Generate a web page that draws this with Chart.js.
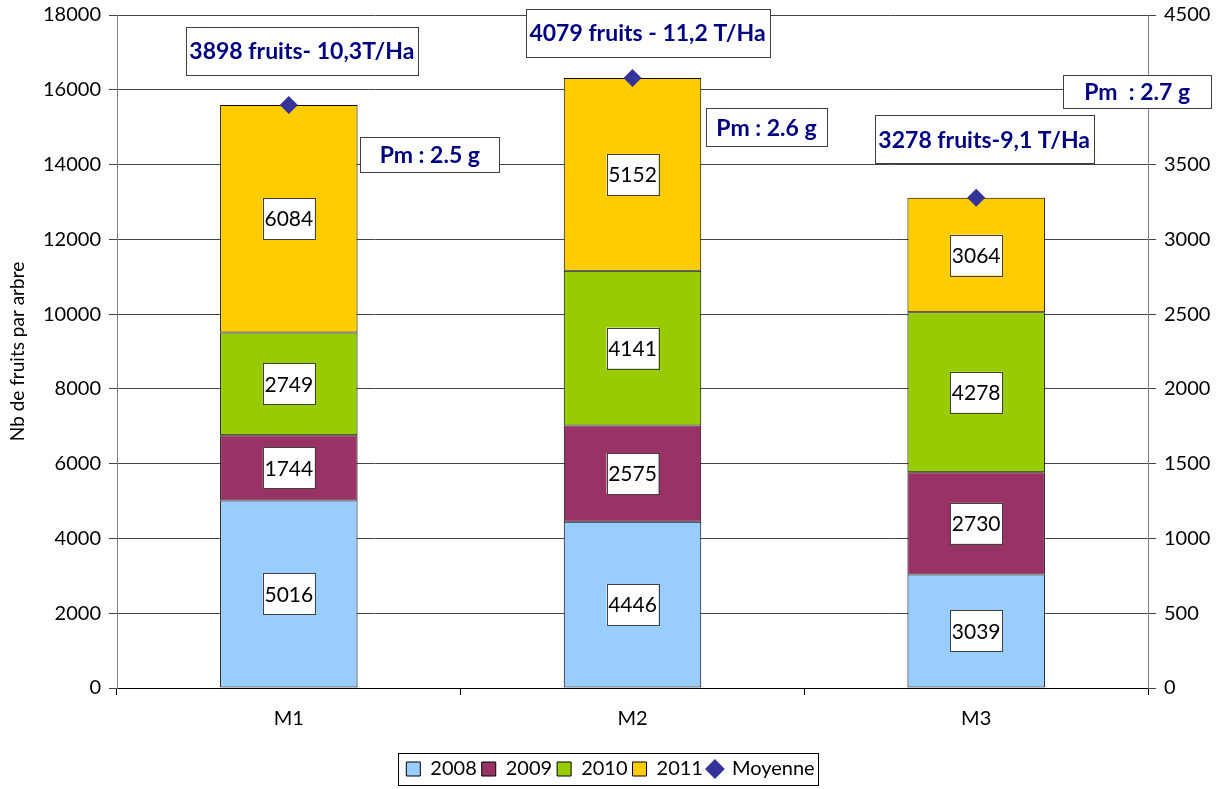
<!DOCTYPE html>
<html>
<head>
<meta charset="utf-8">
<script src="https://cdn.jsdelivr.net/npm/chart.js@4.4.1/dist/chart.umd.min.js"></script>
<style>
  html, body { margin: 0; padding: 0; background: #fff; }
  #wrap { width: 1221px; height: 789px; }
</style>
</head>
<body>
<div id="wrap"><canvas id="chart" width="1221" height="789"></canvas></div>
<script>
const categories = ["M1", "M2", "M3"];
const values2008 = [5016, 4446, 3039];
const values2009 = [1744, 2575, 2730];
const values2010 = [2749, 4141, 4278];
const values2011 = [6084, 5152, 3064];
const moyenne = [3898, 4079, 3278];
const leftTicks = [0, 2000, 4000, 6000, 8000, 10000, 12000, 14000, 16000, 18000];
const rightTicks = [0, 500, 1000, 1500, 2000, 2500, 3000, 3500, 4000, 4500];

// boxed notes: category index, pixel shift from category centre, height on left axis
const notes = [
  { text: "3898 fruits- 10,3T/Ha", cat: 0, dx: 13, y: 17036, w: 232, h: 48 },
  { text: "Pm : 2.5 g", cat: 0, dx: 141, y: 14263, w: 139, h: 35 },
  { text: "4079 fruits - 11,2 T/Ha", cat: 1, dx: 15, y: 17518, w: 244, h: 48 },
  { text: "Pm : 2.6 g", cat: 1, dx: 134, y: 15000, w: 121, h: 38 },
  { text: "3278 fruits-9,1 T/Ha", cat: 2, dx: 8, y: 14679, w: 219, h: 48 },
  { text: "Pm  : 2.7 g", cat: 2, dx: 161, y: 15951, w: 148, h: 33 },
];

const FONT = "Lato, 'Open Sans', sans-serif";

// white boxes with the value in the middle of each bar segment
const barLabels = {
  id: "barLabels",
  afterDatasetsDraw(chart) {
    const ctx = chart.ctx;
    ctx.save();
    ctx.font = "21px " + FONT;
    ctx.textAlign = "center";
    ctx.textBaseline = "middle";
    chart.data.datasets.forEach((ds, i) => {
      if (ds.type === "line") return;
      chart.getDatasetMeta(i).data.forEach((bar, j) => {
        const cx = bar.x;
        const cy = (bar.y + bar.base) / 2;
        const w = 52, h = 41;
        ctx.fillStyle = "#fff";
        ctx.fillRect(cx - w / 2, cy - h / 2, w, h);
        ctx.strokeStyle = "#404040";
        ctx.lineWidth = 1;
        ctx.strokeRect(Math.round(cx - w / 2) + 0.5, Math.round(cy - h / 2) + 0.5, w, h);
        ctx.fillStyle = "#000";
        ctx.fillText(String(ds.data[j]), cx, cy + 1);
      });
    });
    ctx.restore();
  }
};

const noteBoxes = {
  id: "noteBoxes",
  afterDraw(chart) {
    const ctx = chart.ctx;
    const xs = chart.scales.x, ys = chart.scales.y;
    ctx.save();
    ctx.font = "bold 23px " + FONT;
    ctx.textAlign = "center";
    ctx.textBaseline = "middle";
    notes.forEach(n => {
      const cx = xs.getPixelForValue(n.cat) + n.dx;
      const cy = ys.getPixelForValue(n.y);
      const l = Math.round(cx - n.w / 2) + 0.5, t = Math.round(cy - n.h / 2) + 0.5;
      ctx.fillStyle = "#fff";
      ctx.fillRect(l, t, n.w, n.h);
      ctx.strokeStyle = "#404040";
      ctx.lineWidth = 1;
      ctx.strokeRect(l, t, n.w, n.h);
      ctx.fillStyle = "#000080";
      ctx.fillText(n.text, cx, cy + 1);
    });
    ctx.restore();

    // border round the legend
    const lg = chart.legend;
    if (lg && lg.legendHitBoxes && lg.legendHitBoxes.length) {
      const boxes = lg.legendHitBoxes;
      const l = Math.min(...boxes.map(b => b.left)) - 8;
      const r = Math.max(...boxes.map(b => b.left + b.width)) + 4;
      const t = Math.min(...boxes.map(b => b.top)) - 6;
      const btm = Math.max(...boxes.map(b => b.top + b.height)) + 6;
      ctx.save();
      ctx.strokeStyle = "#000";
      ctx.lineWidth = 1;
      ctx.strokeRect(Math.round(l) + 0.5, Math.round(t) + 0.5, Math.round(r - l), Math.round(btm - t));
      ctx.restore();
    }
  }
};

const barStyle = (label, data, color) => ({
  type: "bar",
  label: label,
  data: data,
  backgroundColor: color,
  borderColor: "#000",
  borderWidth: 1,
  borderSkipped: false,
  barPercentage: 0.4,
  categoryPercentage: 1.0,
  yAxisID: "y",
  pointStyle: "rect",
  order: 2,
});

const plain = v => String(v);

new Chart(document.getElementById("chart").getContext("2d"), {
  data: {
    labels: categories,
    datasets: [
      barStyle("2008", values2008, "#99CCFF"),
      barStyle("2009", values2009, "#993366"),
      barStyle("2010", values2010, "#99CC00"),
      barStyle("2011", values2011, "#FFCC00"),
      {
        type: "line",
        label: "Moyenne",
        data: moyenne,
        yAxisID: "y1",
        showLine: false,
        pointStyle: "rectRot",
        pointRadius: 9,
        pointHoverRadius: 9,
        backgroundColor: "#333399",
        borderColor: "#333399",
        borderWidth: 0,
        order: 1,
      },
    ],
  },
  options: {
    responsive: false,
    animation: false,
    layout: { padding: { top: 15, left: 0, right: 0, bottom: 0 } },
    plugins: {
      tooltip: { enabled: false },
      legend: {
        position: "bottom",
        labels: {
          usePointStyle: true,
          boxWidth: 14,
          boxHeight: 14,
          padding: 5,
          color: "#000",
          font: { family: FONT, size: 20 },
          generateLabels(chart) {
            return chart.data.datasets.map((ds, i) => ({
              text: ds.label,
              fillStyle: ds.backgroundColor,
              strokeStyle: ds.type === "line" ? ds.backgroundColor : "#000",
              lineWidth: ds.type === "line" ? 0 : 1,
              pointStyle: ds.pointStyle,
              datasetIndex: i,
              hidden: false,
            }));
          },
        },
      },
    },
    scales: {
      x: {
        stacked: true,
        grid: { drawOnChartArea: false, drawTicks: true, tickLength: 7, color: "#000", offset: true },
        border: { color: "#000", width: 1 },
        ticks: { color: "#000", padding: 12, font: { family: FONT, size: 20 } },
        afterFit(scale) { scale.height = 66; },
      },
      y: {
        stacked: true,
        position: "left",
        min: 0,
        max: 18000,
        afterBuildTicks(scale) { scale.ticks = leftTicks.map(v => ({ value: v })); },
        grid: { color: "#444", tickLength: 8, lineWidth: 1 },
        border: { color: "#808080", width: 1 },
        ticks: { color: "#000", padding: 8, callback: plain, font: { family: FONT, size: 20 } },
        title: {
          display: true,
          text: "Nb de fruits par arbre",
          color: "#000",
          font: { family: FONT, size: 19 },
          padding: { top: 6, bottom: 0 },
        },
        afterFit(scale) { scale.width = 117; scale.paddingTop = 0; scale.paddingBottom = 0; },
      },
      y1: {
        position: "right",
        min: 0,
        max: 4500,
        afterBuildTicks(scale) { scale.ticks = rightTicks.map(v => ({ value: v })); },
        grid: { drawOnChartArea: false, color: "#444", tickLength: 8 },
        border: { color: "#808080", width: 1 },
        ticks: { color: "#000", padding: 8, callback: plain, font: { family: FONT, size: 20 } },
        afterFit(scale) { scale.width = 1221 - 1148; scale.paddingTop = 0; scale.paddingBottom = 0; },
      },
    },
  },
  plugins: [barLabels, noteBoxes],
});
</script>
</body>
</html>
